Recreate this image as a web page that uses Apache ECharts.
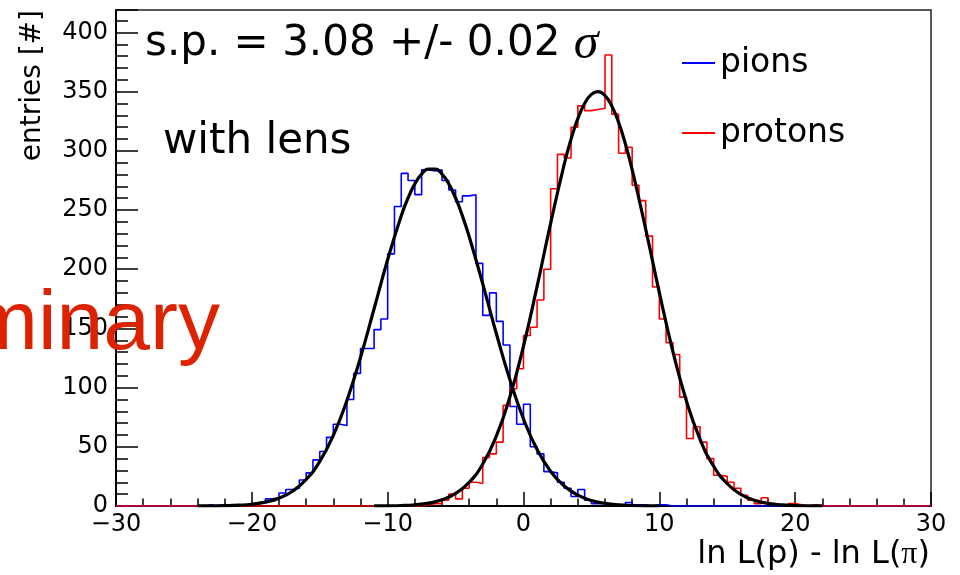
<!DOCTYPE html>
<html><head><meta charset="utf-8">
<script src="https://cdn.jsdelivr.net/npm/echarts@6/dist/echarts.min.js"></script>
<style>html,body{margin:0;padding:0;background:#fff}#c{width:960px;height:575px}</style>
</head><body><div id="c"></div>
<script>
// histogram binning: 120 bins of width 0.5 from -30 to 30
const binLow = -30;
const binWidth = 0.5;

const pionCounts = [
  0,0,0,0,0,0,0,0,0,0,0,0,
  0,1,0,1,1,0,1,1,
  1,3,6,7,11,14,15,22,28,39,
  46,58,69,68,90,112,133,133,149,158,
  213,253,281,275,263,284,283,284,275,267,
  257,262,263,205,161,180,156,136,84,69,
  86,50,44,29,28,20,15,8,14,5,
  2,2,1,1,1,3,1,1,0,1,
  1,0,0,0,0,0,0,0,0,0,
  0,0,0,0,0,0,0,0,0,0,0,0,0,0,0,0,0,0,0,0,0,0,0,0,0,0,0,0,0,0
];

const protonCounts = [
  0,0,0,0,0,0,0,0,0,0,0,0,0,0,0,0,0,0,0,0,0,0,
  0,0,0,0,0,0,0,0,0,0,0,0,0,0,0,0,0,0,0,0,0,0,
  0,1,2,2,5,10,
  6,15,20,19,41,44,54,85,99,116,
  144,151,174,200,268,297,294,320,338,334,
  335,336,381,331,298,303,271,258,228,185,
  158,138,128,92,57,67,54,40,26,25,
  20,15,9,5,2,7,2,1,0,2,
  1,0,1,0,0,0,0,0,0,0,0,0,0,0,0,0,0,0,0,0
];

// fit curves
const pionFitX = [-24,-23,-22,-21,-20,-19,-18,-17,-16,-15,-14,-13,-12,-11,-10,-9,-8.5,-8,-7.5,-7,-6.5,-6,-5.5,-5,-4.5,-4,-3,-2,-1,0,1,2,3,4,5,6,7,8,9,10];
const pionFitY = [0.04,0.11,0.28,0.68,1.5,3.3,6.6,12.5,22.4,37.7,59.7,89.2,125.5,166.6,208.2,245.2,260.2,272.1,280.3,284.5,284.5,280.3,272.1,260.2,245.2,227.6,187.6,145.7,106.6,73.5,47.7,29.2,16.9,9.2,4.7,2.3,1.0,0.44,0.18,0.07];
const protonFitX = [-11,-10,-9,-8,-7,-6,-5,-4,-3,-2,-1,0,1,2,3,3.5,4,4.5,5,5.5,6,6.5,7,7.5,8,9,10,11,12,13,14,15,16,17,18,19,20,21,22];
const protonFitY = [0.06,0.17,0.43,1.06,2.4,5.2,10.6,20.0,35.5,59.1,92.3,135.1,185.5,239.0,288.8,309.9,327.2,340.0,347.7,350.0,346.6,337.9,324.1,305.9,284.2,233.7,180.3,130.4,88.5,56.3,33.6,18.8,9.9,4.9,2.2,0.97,0.4,0.15,0.05];

const legendNames = ['pions', 'protons'];
const annotation = 's.p. = 3.08 +/- 0.02 ';
const subLabel = 'with lens';
const xTitle = 'ln L(p) - ln L(';
const yTitle = 'entries [#]';
const watermark = 'Preliminary';

function stepData(counts) {
  const d = counts.map((v, i) => [binLow + i * binWidth, v]);
  d.push([binLow + counts.length * binWidth, counts[counts.length - 1]]);
  return d;
}
function pairs(xs, ys) { return xs.map((x, i) => [x, ys[i]]); }

const FONT = 'DejaVu Sans';
const chart = echarts.init(document.getElementById('c'), null, {renderer: 'canvas'});
chart.setOption({
  animation: false,
  backgroundColor: '#fff',
  grid: {left: 116, right: 29, top: 10, bottom: 69, show: true, borderColor: '#222', borderWidth: 1.5},
  xAxis: {
    type: 'value', min: -30, max: 30, interval: 10,
    axisLine: {show: true, onZero: false, lineStyle: {color: '#000', width: 2}},
    axisTick: {show: true, inside: true, length: 14, lineStyle: {color: '#000', width: 1.5}},
    minorTick: {show: true, splitNumber: 5, length: 7.5, lineStyle: {color: '#000', width: 1.5}},
    axisLabel: {margin: 7, fontSize: 24, fontFamily: FONT, color: '#000',
      formatter: v => v < 0 ? '\u2212' + (-v) : String(v)},
    splitLine: {show: false}
  },
  yAxis: {
    type: 'value', min: 0, max: 419, interval: 50,
    axisLine: {show: true, onZero: false, lineStyle: {color: '#000', width: 2}},
    axisTick: {show: true, inside: true, length: 22, lineStyle: {color: '#000', width: 1.5}},
    minorTick: {show: true, splitNumber: 5, length: 12, lineStyle: {color: '#000', width: 1.5}},
    axisLabel: {margin: 8, fontSize: 24, fontFamily: FONT, color: '#000', showMaxLabel: false},
    splitLine: {show: false}
  },
  legend: {
    data: legendNames, orient: 'vertical', left: 682, top: 46, padding: 0,
    itemWidth: 33, itemHeight: 2, icon: 'rect', itemGap: 36, selectedMode: false,
    textStyle: {fontFamily: FONT, fontSize: 33, color: '#000', lineHeight: 34}
  },
  series: [
    {name: legendNames[0], type: 'line', step: 'end', data: stepData(pionCounts), symbol: 'none',
      color: '#0000ff', lineStyle: {color: '#0000ff', width: 1.6}, z: 2},
    {name: legendNames[1], type: 'line', step: 'end', data: stepData(protonCounts), symbol: 'none',
      color: '#ff0000', lineStyle: {color: '#ff0000', width: 1.6}, z: 2},
    {name: 'pion fit', type: 'line', smooth: true, data: pairs(pionFitX, pionFitY), symbol: 'none',
      color: '#000', lineStyle: {color: '#000', width: 3.2}, z: 3},
    {name: 'proton fit', type: 'line', smooth: true, data: pairs(protonFitX, protonFitY), symbol: 'none',
      color: '#000', lineStyle: {color: '#000', width: 3.2}, z: 3}
  ],
  graphic: [
    {type: 'text', x: 145, y: 44.5, z: 100, style: {
      text: '{a|' + annotation + '}{b|\u03c3}', verticalAlign: 'middle', fill: '#000',
      rich: {a: {fontSize: 42, fontFamily: FONT, fill: '#000'},
             b: {fontSize: 50, fontFamily: 'Liberation Serif', fontStyle: 'italic', fill: '#000'}}}},
    {type: 'text', x: 163, y: 142.5, z: 100, style: {text: subLabel, fontSize: 42, fontFamily: FONT, fill: '#000', verticalAlign: 'middle'}},
    {type: 'text', x: 33, y: 10, rotation: Math.PI / 2, z: 100, style: {text: yTitle, fontSize: 28, fontFamily: FONT, fill: '#000', align: 'right', verticalAlign: 'middle'}},
    {type: 'text', x: 930, y: 555, z: 100, style: {
      text: '{a|' + xTitle + '}{b|\u03c0}{a|)}', align: 'right', verticalAlign: 'middle', fill: '#000',
      rich: {a: {fontSize: 32, fontFamily: FONT, fill: '#000'}, b: {fontSize: 32, fontFamily: 'Liberation Serif', fill: '#000'}}}},
    {type: 'text', x: 220, y: 326, z: 100, style: {text: watermark, fontSize: 84, fontFamily: 'Liberation Sans', fill: '#dd2200', align: 'right', verticalAlign: 'middle'}}
  ]
});
</script></body></html>
